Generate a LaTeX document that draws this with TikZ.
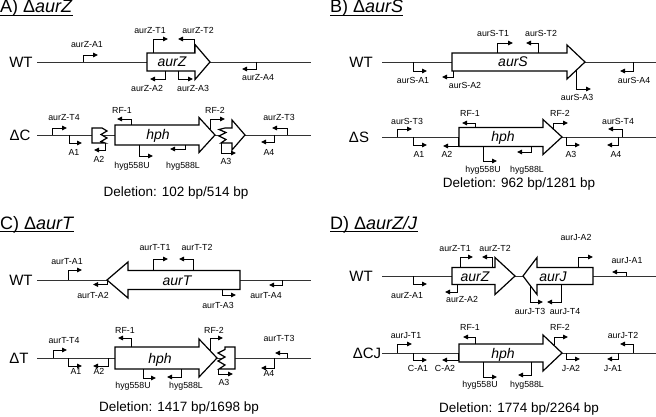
\documentclass[tikz,border=0pt]{standalone}
\usepackage{fontspec}
\setmainfont{Liberation Sans}
\usetikzlibrary{arrows.meta}
\newcommand\genearrow[6]{\draw[gene] ({#1},{#4-#5}) -- ({#2},{#4-#5}) -- ({#2},{#4-#6}) -- ({#3},{#4}) -- ({#2},{#4+#6}) -- ({#2},{#4+#5}) -- ({#1},{#4+#5}) -- cycle;}
\newcommand\primer[4]{\draw[primer] ({#1},{#2}) -- ({#1},{#3}) -- ({#4},{#3});}
\begin{document}
\begin{tikzpicture}[x=1pt,y=-1pt,
  dna/.style={line width=0.9pt, draw=black!80},
  gene/.style={draw=black, line width=1.2pt, fill=white, line join=miter},
  primer/.style={line width=0.9pt, -{Triangle[length=5pt,width=4.5pt]}},
  lab/.style={font=\fontsize{8.8}{10}\selectfont, inner sep=0pt, text height=6.3pt, text depth=0pt},
  genelab/.style={font=\fontsize{14}{16}\selectfont\itshape, inner sep=0pt, text height=10pt, text depth=0pt},
  rowlab/.style={font=\fontsize{15}{17}\selectfont, inner sep=0pt, text height=10.8pt, text depth=0pt},
  dellab/.style={font=\fontsize{13.5}{15}\selectfont, inner sep=0pt, text height=9.7pt, text depth=0pt},
  ttl/.style={font=\fontsize{18}{20}\selectfont, inner sep=0pt, anchor=base west},
  uline/.style={line width=0.9pt}
]
\useasboundingbox (0,0) rectangle (656,417);
% ---------------- titles
\node[ttl] (tA) at (0,13) {A) Δ\textit{aurZ}};
\node[ttl] (tB) at (330,13) {B) Δ\textit{aurS}};
\node[ttl] (tC) at (0,229) {C) Δ\textit{aurT}};
\node[ttl] (tD) at (330,229) {D) Δ\textit{aurZ/J}};
\foreach \t in {tA,tB,tC,tD}{\draw[uline] ([yshift=-2pt]\t.base west) -- ([yshift=-2pt]\t.base east);}

% ================= Panel A
\node[rowlab] (aWT) at (21,62) {WT};
\draw[dna] (37,62) -- (311,62);
\genearrow{147}{195}{210}{62}{9}{17.5}
\node[genelab] (aG) at (172,62) {aurZ};
\primer{83}{62}{55}{98}   \node[lab] (aA1) at (87,44) {aurZ-A1};
\primer{153}{53}{39}{168} \node[lab] (aT1) at (150,30) {aurZ-T1};
\primer{194}{53}{39}{178} \node[lab] (aT2) at (198,30) {aurZ-T2};
\primer{165}{71}{79}{150} \node[lab] (aA2) at (147,88) {aurZ-A2};
\primer{178}{71}{79}{193} \node[lab] (aA3) at (193,88) {aurZ-A3};
\primer{256}{62}{69}{242} \node[lab] (aA4) at (258,77) {aurZ-A4};

\node[rowlab] (aDC) at (20,135) {ΔC};
\draw[dna] (37,135) -- (311,135);
\draw[gene] (92,128) -- (102,128) -- (107,131) -- (101,134.5) -- (107,138) -- (101,141.5) -- (105,143) -- (92,143) -- cycle;
\genearrow{115}{199}{215}{135}{10}{17.5}
\node[genelab] (aH) at (158,135) {hph};
\draw[gene] (225,128) -- (232,128) -- (232,120) -- (245,135) -- (232,150) -- (232,143) -- (221,143) -- (226,139.5) -- (219,136) -- (226,132.5) -- (219,129.5) -- cycle;
\primer{52}{135}{128}{67}     \node[lab] (acT4) at (64,117) {aurZ-T4};
\primer{69}{135}{143}{82}     \node[lab] (acA1) at (74,152) {A1};
\primer{105}{143}{150}{94}    \node[lab] (acA2) at (99,159) {A2};
\primer{131}{125}{119}{117}   \node[lab] (acR1) at (122,110) {RF-1};
\primer{139}{145}{156}{153}   \node[lab] (acHU) at (132,165) {hyg558U};
\primer{185}{145}{149}{170}   \node[lab] (acHL) at (183,165) {hyg588L};
\primer{210}{129.5}{119}{225} \node[lab] (acR2) at (215,110) {RF-2};
\primer{221}{143}{153}{236}   \node[lab] (acA3) at (226,161) {A3};
\primer{274}{135}{142}{261}   \node[lab] (acA4) at (269,152) {A4};
\primer{287}{135}{128}{272}   \node[lab] (acT3) at (279,117) {aurZ-T3};
\node[dellab] (aDel) at (176,192) {Deletion: 102 bp/514 bp};

% ================= Panel B
\node[rowlab] (bWT) at (361,62) {WT};
\draw[dna] (382,62) -- (656,62);
\genearrow{452}{567}{585}{62}{9}{17}
\node[genelab] (bG) at (513,62) {aurS};
\primer{413}{62}{71}{427}   \node[lab] (bA1) at (413,80) {aurS-A1};
\primer{453}{71}{77}{442}   \node[lab] (bA2) at (465,85) {aurS-A2};
\primer{497}{53}{43}{513}   \node[lab] (bT1) at (493,33) {aurS-T1};
\primer{538}{53}{43}{526}   \node[lab] (bT2) at (541,33) {aurS-T2};
\primer{576}{70.5}{89}{591} \node[lab] (bA3) at (577,97) {aurS-A3};
\primer{633}{62}{71}{620}   \node[lab] (bA4) at (634,80) {aurS-A4};

\node[rowlab] (bDS) at (359,137) {ΔS};
\draw[dna] (382,137) -- (656,137);
\genearrow{459}{543}{562}{137}{9.5}{17.5}
\node[genelab] (bH) at (503,137) {hph};
\primer{397}{137}{129}{412}     \node[lab] (bsT3) at (407,121) {aurS-T3};
\primer{413}{137}{145}{427}     \node[lab] (bsA1) at (419,154) {A1};
\primer{458}{137}{146}{443}     \node[lab] (bsA2) at (447,154) {A2};
\primer{475}{127.5}{123}{462}   \node[lab] (bsR1) at (470,113) {RF-1};
\primer{553}{128.7}{123}{568}   \node[lab] (bsR2) at (560,113) {RF-2};
\primer{483}{146.5}{161}{497}   \node[lab] (bsHU) at (483,169) {hyg558U};
\primer{531}{146.5}{152}{517}   \node[lab] (bsHL) at (527,169) {hyg588L};
\primer{566}{137}{145}{580}     \node[lab] (bsA3) at (571,154) {A3};
\primer{618}{137}{145}{607}     \node[lab] (bsA4) at (616,154) {A4};
\primer{622}{137}{129}{608}     \node[lab] (bsT4) at (618,121) {aurS-T4};
\node[dellab] (bDel) at (519,183) {Deletion: 962 bp/1281 bp};

% ================= Panel C
\node[rowlab] (cWT) at (21,280) {WT};
\draw[dna] (37,280) -- (311,280);
\genearrow{240}{128}{107}{280}{9.5}{18}
\node[genelab] (cG) at (177,280) {aurT};
\primer{68}{280}{270}{82}      \node[lab] (cA1) at (67,261) {aurT-A1};
\primer{107}{280}{284.5}{93}   \node[lab] (cA2) at (93,295) {aurT-A2};
\primer{153}{270.5}{259}{168}  \node[lab] (cT1) at (155,247) {aurT-T1};
\primer{193}{270.5}{259}{179}  \node[lab] (cT2) at (197,247) {aurT-T2};
\primer{222}{289.5}{295}{236}  \node[lab] (cA3) at (218,305) {aurT-A3};
\primer{282}{280}{285}{269}    \node[lab] (cA4) at (266,295) {aurT-A4};

\node[rowlab] (cDT) at (19,358) {ΔT};
\draw[dna] (37,358) -- (311,358);
\genearrow{115}{199}{217}{358}{11}{19}
\node[genelab] (cH) at (160,358) {hph};
\draw[gene] (225,347) -- (235,347) -- (235,369) -- (219,369) -- (225,365) -- (218,361) -- (225,357) -- (218,353) -- (225,349.5) -- cycle;
\primer{53}{358}{350}{67}      \node[lab] (ctT4) at (64,340) {aurT-T4};
\primer{68}{358}{366}{82}      \node[lab] (ctA1) at (76,371) {A1};
\primer{108}{358}{366}{93}     \node[lab] (ctA2) at (99,371) {A2};
\primer{131}{347}{338}{118}    \node[lab] (ctR1) at (125,330) {RF-1};
\primer{210}{350.6}{338}{223}  \node[lab] (ctR2) at (214,330) {RF-2};
\primer{143}{369}{378}{156}    \node[lab] (ctHU) at (133,385) {hyg558U};
\primer{181}{369}{377}{167}    \node[lab] (ctHL) at (186,385) {hyg588L};
\primer{218}{369}{374}{233}    \node[lab] (ctA3) at (224,382) {A3};
\primer{274}{358}{368}{261}    \node[lab] (ctA4) at (269,373) {A4};
\primer{287}{358}{353}{275}    \node[lab] (ctT3) at (279,338) {aurT-T3};
\node[dellab] (cDel) at (179,407) {Deletion: 1417 bp/1698 bp};

% ================= Panel D
\node[rowlab] (dWT) at (361,276) {WT};
\draw[dna] (382,276) -- (656,276);
\genearrow{452}{495}{515}{276}{8.5}{18.5}
\genearrow{593}{537}{523}{276}{8.5}{18.5}
\node[genelab] (dZ) at (475,276) {aurZ};
\node[genelab] (dJ) at (553,276) {aurJ};
\primer{413}{276}{284}{427}    \node[lab] (dA1) at (407,295) {aurZ-A1};
\primer{457}{284.5}{292}{445}  \node[lab] (dA2) at (462,299) {aurZ-A2};
\primer{460}{267.5}{257}{473}  \node[lab] (dT1) at (455,248) {aurZ-T1};
\primer{492}{267.5}{257}{482}  \node[lab] (dT2) at (495,248) {aurZ-T2};
\primer{578}{267.5}{257}{593}  \node[lab] (dJA2) at (576,237) {aurJ-A2};
\primer{626}{276}{272}{612}    \node[lab] (dJA1) at (627,260) {aurJ-A1};
\primer{530}{285}{302}{543}    \node[lab] (dJT3) at (530,311) {aurJ-T3};
\primer{561}{284.5}{302}{547}  \node[lab] (dJT4) at (565,311) {aurJ-T4};

\node[rowlab] (dCJ) at (367,353) {ΔCJ};
\draw[dna] (382,353) -- (656,353);
\genearrow{459}{543}{562}{353}{9}{18}
\node[genelab] (dH) at (503,353) {hph};
\primer{397}{353}{344}{412}    \node[lab] (djT1) at (406,335) {aurJ-T1};
\primer{413}{353}{360}{427}    \node[lab] (djC1) at (418,368) {C-A1};
\primer{458}{353}{360}{442}    \node[lab] (djC2) at (445,368) {C-A2};
\primer{475}{344}{337}{463}    \node[lab] (djR1) at (470,327) {RF-1};
\primer{554}{345.4}{337}{568}  \node[lab] (djR2) at (560,327) {RF-2};
\primer{483}{362}{377}{497}    \node[lab] (djHU) at (480,384) {hyg558U};
\primer{531}{362}{375}{518}    \node[lab] (djHL) at (527,384) {hyg588L};
\primer{566}{353}{359}{580}    \node[lab] (djJ2) at (571,368) {J-A2};
\primer{618}{353}{359}{607}    \node[lab] (djJ1) at (613,368) {J-A1};
\primer{633}{353}{344}{620}    \node[lab] (djT2) at (623,335) {aurJ-T2};
\node[dellab] (dDel) at (519,408) {Deletion: 1774 bp/2264 bp};
\end{tikzpicture}
\end{document}
